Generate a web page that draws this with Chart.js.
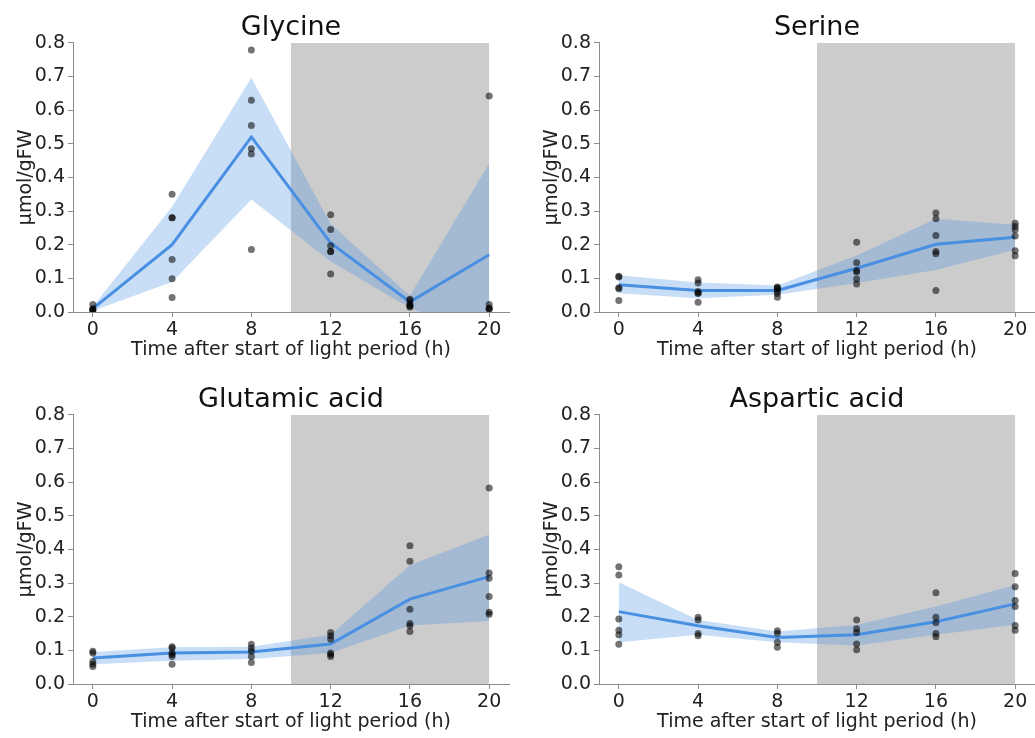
<!DOCTYPE html>
<html>
<head>
<meta charset="utf-8">
<title>Amino acids over the day</title>
<script src="https://cdn.jsdelivr.net/npm/chart.js@4.4.0/dist/chart.umd.min.js"></script>
<style>
    html, body { margin: 0; padding: 0; background: #fff; overflow: hidden; }
    canvas { position: absolute; }
</style>
</head>
<body>
<canvas id="glycineChart" width="513" height="369" style="left:0;top:0"></canvas>
<canvas id="serineChart" width="513" height="369" style="left:526px;top:0"></canvas>
<canvas id="glutamicChart" width="513" height="369" style="left:0;top:372px"></canvas>
<canvas id="asparticChart" width="513" height="369" style="left:526px;top:372px"></canvas>
<script>
const hours = [0, 4, 8, 12, 16, 20];
const yTicks = [0, 0.1, 0.2, 0.3, 0.4, 0.5, 0.6, 0.7, 0.8];
const darkStart = 10;
const darkEnd = 20;

// Glycine
const glycineMean = [0.01, 0.20, 0.52, 0.205, 0.03, 0.17];
const glycineLow = [0.004, 0.089, 0.334, 0.15, 0.012, -0.08];
const glycineHigh = [0.016, 0.313, 0.696, 0.262, 0.048, 0.441];
const glycinePoints = [
    [0.022, 0.008, 0.006, 0.004, 0.01],
    [0.35, 0.28, 0.28, 0.156, 0.099, 0.043],
    [0.778, 0.629, 0.554, 0.485, 0.469, 0.186],
    [0.289, 0.245, 0.197, 0.18, 0.18, 0.113],
    [0.038, 0.035, 0.025, 0.02, 0.017, 0.015],
    [0.642, 0.022, 0.012, 0.01, 0.008]
];

// Serine
const serineMean = [0.081, 0.064, 0.064, 0.13, 0.201, 0.222];
const serineLow = [0.056, 0.041, 0.051, 0.086, 0.125, 0.185];
const serineHigh = [0.109, 0.088, 0.079, 0.168, 0.277, 0.259];
const serinePoints = [
    [0.106, 0.104, 0.072, 0.069, 0.034],
    [0.096, 0.086, 0.061, 0.056, 0.056, 0.029],
    [0.074, 0.072, 0.069, 0.061, 0.055, 0.044],
    [0.207, 0.146, 0.123, 0.119, 0.098, 0.083],
    [0.294, 0.277, 0.227, 0.18, 0.173, 0.064],
    [0.264, 0.254, 0.244, 0.226, 0.182, 0.167]
];

// Glutamic acid
const glutamicMean = [0.077, 0.092, 0.095, 0.119, 0.252, 0.319];
const glutamicLow = [0.059, 0.069, 0.074, 0.092, 0.174, 0.187];
const glutamicHigh = [0.095, 0.109, 0.111, 0.146, 0.353, 0.444];
const glutamicPoints = [
    [0.097, 0.092, 0.067, 0.059, 0.052],
    [0.111, 0.107, 0.092, 0.088, 0.082, 0.059],
    [0.118, 0.107, 0.097, 0.082, 0.064],
    [0.153, 0.143, 0.133, 0.092, 0.088, 0.082],
    [0.411, 0.365, 0.222, 0.18, 0.173, 0.156],
    [0.582, 0.33, 0.314, 0.26, 0.213, 0.207]
];

// Aspartic acid
const asparticMean = [0.215, 0.173, 0.138, 0.146, 0.185, 0.238];
const asparticLow = [0.124, 0.146, 0.124, 0.114, 0.146, 0.176];
const asparticHigh = [0.302, 0.19, 0.156, 0.176, 0.23, 0.294];
const asparticPoints = [
    [0.348, 0.324, 0.193, 0.16, 0.146, 0.118],
    [0.198, 0.19, 0.15, 0.143],
    [0.158, 0.151, 0.124, 0.109],
    [0.19, 0.164, 0.153, 0.119, 0.102],
    [0.271, 0.198, 0.182, 0.15, 0.14],
    [0.328, 0.289, 0.248, 0.23, 0.174, 0.16]
];

const colors = {
    line: '#4a90e2',
    band: 'rgba(74, 144, 226, 0.3)',
    dark: 'rgba(128, 128, 128, 0.4)',
    dots: 'rgba(0, 0, 0, 0.55)',
    axis: '#8c8c8c',
    text: '#222222'
};

Chart.defaults.font.family = "'DejaVu Sans', sans-serif";
Chart.defaults.color = colors.text;

const toXY = arr => hours.map((h, i) => ({ x: h, y: arr[i] }));

function makeChart(id, title, mean, low, high, points) {
    const dots = [];
    points.forEach((vals, i) => vals.forEach(v => dots.push({ x: hours[i], y: v })));

    return new Chart(document.getElementById(id), {
        type: 'line',
        data: {
            datasets: [
                { type: 'scatter', data: dots, backgroundColor: colors.dots, borderWidth: 0, pointRadius: 3.5, order: 0 },
                { data: toXY(mean), borderColor: colors.line, borderWidth: 3, pointRadius: 0, fill: false, order: 1 },
                { data: toXY(low), borderWidth: 0, pointRadius: 0, fill: false, order: 3 },
                { data: toXY(high), borderWidth: 0, pointRadius: 0, fill: '-1', backgroundColor: colors.band, order: 2 },
                { data: [{ x: darkStart, y: 0.8 }, { x: darkEnd, y: 0.8 }], borderWidth: 0, pointRadius: 0,
                  fill: 'origin', backgroundColor: colors.dark, order: 5 }
            ]
        },
        options: {
            responsive: false,
            animation: false,
            events: [],
            layout: { padding: 0 },
            plugins: {
                legend: { display: false },
                tooltip: { enabled: false },
                title: {
                    display: true, text: title, fullSize: false, color: '#111',
                    font: { size: 27, weight: 'normal', lineHeight: 1.1 },
                    padding: { top: 13, bottom: 0 }
                }
            },
            scales: {
                x: {
                    type: 'linear', min: -1, max: 21,
                    afterBuildTicks: s => { s.ticks = hours.map(v => ({ value: v })); },
                    afterFit: s => { s.height = 57; },
                    grid: { drawOnChartArea: false, tickLength: 5, color: colors.axis },
                    border: { color: colors.axis, width: 1 },
                    ticks: { font: { size: 19 }, padding: 2, maxRotation: 0, autoSkip: false },
                    title: { display: true, text: 'Time after start of light period (h)', font: { size: 19 },
                             padding: { top: 0, bottom: 7.5 } }
                },
                y: {
                    min: 0, max: 0.8,
                    afterBuildTicks: s => { s.ticks = yTicks.map(v => ({ value: v })); },
                    afterFit: s => { s.width = 73; },
                    grid: { drawOnChartArea: false, tickLength: 5, color: colors.axis },
                    border: { color: colors.axis, width: 1 },
                    ticks: { font: { size: 19 }, padding: 3, callback: v => v.toFixed(1) },
                    title: { display: true, text: 'µmol/gFW', font: { size: 19 }, padding: { top: 15, bottom: 0 } }
                }
            }
        }
    });
}

makeChart('glycineChart', 'Glycine', glycineMean, glycineLow, glycineHigh, glycinePoints);
makeChart('serineChart', 'Serine', serineMean, serineLow, serineHigh, serinePoints);
makeChart('glutamicChart', 'Glutamic acid', glutamicMean, glutamicLow, glutamicHigh, glutamicPoints);
makeChart('asparticChart', 'Aspartic acid', asparticMean, asparticLow, asparticHigh, asparticPoints);
</script>
</body>
</html>
